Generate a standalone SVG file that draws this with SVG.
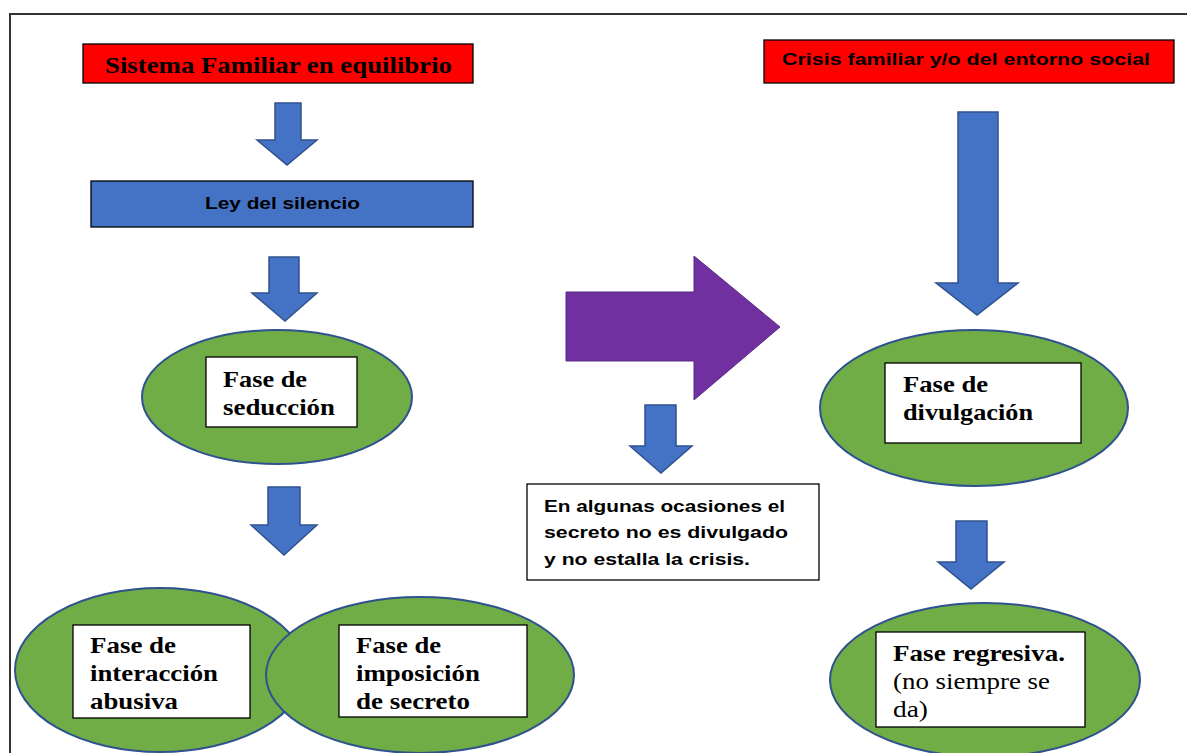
<svg xmlns="http://www.w3.org/2000/svg" width="1187" height="753" viewBox="0 0 1187 753">
<style>
.arrow{fill:#4472C4;stroke:#2F528F;stroke-width:1.5}
.ell{fill:#70AD47;stroke:#2F528F;stroke-width:2}
.wbox{fill:#FFFFFF;stroke:#000000;stroke-width:1.3}
.red{fill:#FF0000;stroke:#000000;stroke-width:1.3}
.serif{font-family:"Liberation Serif","Times New Roman",serif;font-weight:bold;font-size:22.5px;fill:#000}
.serifn{font-family:"Liberation Serif","Times New Roman",serif;font-weight:normal;font-size:22.5px;fill:#000}
.sans{font-family:"Liberation Sans",Arial,sans-serif;font-weight:bold;font-size:17px;fill:#000}
</style>
<rect x="0" y="0" width="1187" height="753" fill="#FFFFFF"/>
<path d="M10,760 L10,14 L1195,14" fill="none" stroke="#333333" stroke-width="2"/>

<g id="connectors">
<polygon class="arrow" points="275,103 301,103 301,140 317,140 287,165 257,140 275,140"/>
<polygon class="arrow" points="269,257 299,257 299,293 317,293 285,321 252,293 269,293"/>
<polygon class="arrow" points="268,487 300,487 300,525 317,525 284,555 251,525 268,525"/>
<polygon fill="#7030A0" stroke="#5B2A86" stroke-width="1" points="566,292 694,292 694,256 780,327 694,400 694,361 566,361"/>
<polygon class="arrow" points="645,405 676,405 676,446 692,446 661,473 630,446 645,446"/>
<polygon class="arrow" points="958,112 998,112 998,283 1018,283 977,315 936,283 958,283"/>
<polygon class="arrow" points="956,521 987,521 987,562 1004,562 971,589 938,562 956,562"/>
</g>

<g id="n-sistema">
<rect class="red" x="83" y="44" width="390" height="39"/>
<text class="serif" x="105" y="72.5" font-size="23" textLength="347" lengthAdjust="spacingAndGlyphs">Sistema Familiar en equilibrio</text>
</g>

<g id="n-ley">
<rect x="91" y="181" width="382" height="46" fill="#4472C4" stroke="#000" stroke-width="1.3"/>
<text class="sans" x="205" y="209" textLength="155" lengthAdjust="spacingAndGlyphs">Ley del silencio</text>
</g>

<g id="n-seduccion">
<ellipse class="ell" cx="277" cy="397" rx="135" ry="67"/>
<rect class="wbox" x="206" y="357" width="151" height="70"/>
<text class="serif" x="223" y="387" textLength="84" lengthAdjust="spacingAndGlyphs">Fase de</text>
<text class="serif" x="223" y="415" textLength="112" lengthAdjust="spacingAndGlyphs">seducción</text>
</g>

<g id="n-interaccion">
<ellipse class="ell" cx="160" cy="670" rx="145" ry="82"/>
</g>

<g id="n-imposicion">
<ellipse class="ell" cx="420" cy="675" rx="154" ry="78"/>
<rect class="wbox" x="339" y="625" width="188" height="92"/>
<text class="serif" x="356" y="653" textLength="85" lengthAdjust="spacingAndGlyphs">Fase de</text>
<text class="serif" x="356" y="681" textLength="124" lengthAdjust="spacingAndGlyphs">imposición</text>
<text class="serif" x="356" y="709" textLength="114" lengthAdjust="spacingAndGlyphs">de secreto</text>
</g>

<g id="n-interaccion-label">
<rect class="wbox" x="73" y="625" width="177" height="93"/>
<text class="serif" x="90" y="653" textLength="86" lengthAdjust="spacingAndGlyphs">Fase de</text>
<text class="serif" x="90" y="681" textLength="128" lengthAdjust="spacingAndGlyphs">interacción</text>
<text class="serif" x="90" y="709" textLength="88" lengthAdjust="spacingAndGlyphs">abusiva</text>
</g>

<g id="n-divulgacion">
<ellipse class="ell" cx="974" cy="408" rx="154" ry="78"/>
<rect class="wbox" x="885" y="363" width="196" height="80"/>
<text class="serif" x="903" y="392" textLength="85" lengthAdjust="spacingAndGlyphs">Fase de</text>
<text class="serif" x="903" y="420" textLength="130" lengthAdjust="spacingAndGlyphs">divulgación</text>
</g>

<g id="n-nota">
<rect class="wbox" x="527" y="484" width="292" height="96"/>
<text class="sans" x="544" y="512" textLength="241" lengthAdjust="spacingAndGlyphs">En algunas ocasiones el</text>
<text class="sans" x="544" y="538" textLength="244" lengthAdjust="spacingAndGlyphs">secreto no es divulgado</text>
<text class="sans" x="544" y="565" textLength="206" lengthAdjust="spacingAndGlyphs">y no estalla la crisis.</text>
</g>

<g id="n-crisis">
<rect class="red" x="764" y="40" width="410" height="43"/>
<text class="sans" x="782" y="65" textLength="368" lengthAdjust="spacingAndGlyphs">Crisis familiar y/o del entorno social</text>
</g>

<g id="n-regresiva">
<ellipse class="ell" cx="985" cy="680" rx="155" ry="77"/>
<rect class="wbox" x="876" y="632" width="209" height="95"/>
<text class="serif" x="893" y="661" textLength="172" lengthAdjust="spacingAndGlyphs">Fase regresiva.</text>
<text class="serifn" x="893" y="689" textLength="157" lengthAdjust="spacingAndGlyphs">(no siempre se</text>
<text class="serifn" x="893" y="717" textLength="35" lengthAdjust="spacingAndGlyphs">da)</text>
</g>
</svg>
